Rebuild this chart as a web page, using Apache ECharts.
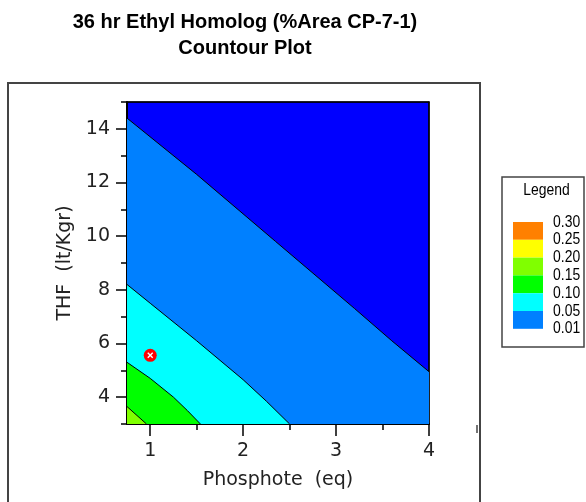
<!DOCTYPE html>
<html lang="en">
<head>
  <meta charset="UTF-8" />
  <title>36 hr Ethyl Homolog Contour Plot</title>
  <script src="https://cdn.jsdelivr.net/npm/echarts@6/dist/echarts.min.js"></script>
  <style>
    body {
      margin: 0;
      background: #fff;
    }
    #chart {
      width: 586px;
      height: 502px;
    }
  </style>
</head>
<body>
  <div id="chart"></div>

  <script>
    // contour lines, [phosphate, THF]
    const level01 = [[0.75, 14.4], [1.5, 12.3], [2.35, 9.8], [3.2, 7.3], [3.6, 6.1], [4, 4.95]];
    const level05 = [[0.75, 8.2], [1.0, 7.5], [1.5, 6.1], [2.0, 4.65], [2.25, 3.85], [2.5, 3.0]];
    const level10 = [[0.75, 5.3], [1.0, 4.7], [1.25, 4.0], [1.4, 3.5], [1.54, 3.0]];
    const level15 = [[0.75, 3.65], [0.96, 3.0]];
    const designPoint = [[1.0, 5.56]];

    // tick values
    const xMajor = [1, 2, 3, 4];
    const xMinor = [1.5, 2.5, 3.5];
    const yMajor = [4, 6, 8, 10, 12, 14];
    const yMinor = [3, 5, 7, 9, 11, 13, 15];

    // legend
    const legendLabels = ['0.30', '0.25', '0.20', '0.15', '0.10', '0.05', '0.01'];
    const legendColors = ['#FF8000', '#FFFF00', '#80FF00', '#00FF00', '#00FFFF', '#0080FF'];
    const lowColor = '#0000FF';

    const axisFont = 'DejaVu Sans';
    const legendFont = '17px "Liberation Sans", Arial, sans-serif';

    const chart = echarts.init(document.getElementById('chart'));

    // each band = area under its contour line, drawn from lowest level up
    const bandSeries = (data, color) => ({
      type: 'line',
      data: data,
      showSymbol: false,
      silent: true,
      lineStyle: { color: '#000', width: 1 },
      areaStyle: { color: color, opacity: 1, origin: 'start' }
    });

    const bandColors = legendColors.slice().reverse(); // 0.01, 0.05, 0.10, 0.15 ...

    // legend drawing (narrow text = normal font squeezed)
    const lg = { x: 502, y: 177, w: 82, h: 170, sx: 513, sw: 30, top: 222, rowH: 17.8 };
    const legendGraphics = [
      { type: 'rect', shape: { x: lg.x, y: lg.y, width: lg.w, height: lg.h },
        style: { fill: '#fff', stroke: '#444', lineWidth: 1.5 } },
      { type: 'text', x: 546.5, y: 190, scaleX: 0.82,
        style: { text: 'Legend', font: legendFont, fill: '#000', align: 'center', verticalAlign: 'middle' } }
    ];
    legendColors.forEach((c, i) => {
      legendGraphics.push({ type: 'rect',
        shape: { x: lg.sx, y: lg.top + i * lg.rowH, width: lg.sw, height: lg.rowH },
        style: { fill: c } });
    });
    legendLabels.forEach((t, i) => {
      legendGraphics.push({ type: 'text', x: 553, y: lg.top + i * lg.rowH, scaleX: 0.82,
        style: { text: t, font: legendFont, fill: '#000', align: 'left', verticalAlign: 'middle' } });
    });

    chart.setOption({
      animation: false,
      title: {
        text: '36 hr Ethyl Homolog (%Area CP-7-1)\nCountour Plot',
        left: 245,
        top: 9,
        padding: 0,
        textAlign: 'center',
        textStyle: { fontFamily: 'Liberation Sans', fontWeight: 'bold', fontSize: 20, lineHeight: 26, color: '#000' }
      },
      grid: {
        left: 127, top: 102, width: 302, height: 322,
        show: true, backgroundColor: lowColor, borderColor: '#000', borderWidth: 1
      },
      xAxis: [
        {
          type: 'value', min: 0.75, max: 4, position: 'bottom',
          name: 'Phosphote  (eq)', nameLocation: 'middle', nameGap: 47,
          nameTextStyle: { fontFamily: axisFont, fontSize: 19, color: '#222' },
          axisLine: { show: true, onZero: false, lineStyle: { color: '#000', width: 2 } },
          axisTick: { show: true, customValues: xMajor, length: 12, lineStyle: { color: '#000', width: 1.5 } },
          axisLabel: { customValues: xMajor, margin: 18, fontFamily: axisFont, fontSize: 19, color: '#222' },
          splitLine: { show: false }
        },
        {
          type: 'value', min: 0.75, max: 4, position: 'bottom',
          axisLine: { show: false },
          axisTick: { show: true, customValues: xMinor, length: 6, lineStyle: { color: '#000', width: 1.5 } },
          axisLabel: { show: false },
          splitLine: { show: false }
        },
        {
          type: 'value', min: 0.75, max: 4, position: 'top',
          axisLine: { show: true, onZero: false, lineStyle: { color: '#000', width: 1.5 } },
          axisTick: { show: false },
          axisLabel: { show: false },
          splitLine: { show: false }
        }
      ],
      yAxis: [
        {
          type: 'value', min: 3, max: 15, position: 'left',
          name: 'THF  (lt/Kgr)', nameLocation: 'middle', nameGap: 48,
          nameTextStyle: { fontFamily: axisFont, fontSize: 19, color: '#222' },
          axisLine: { show: true, onZero: false, lineStyle: { color: '#000', width: 2 } },
          axisTick: { show: true, customValues: yMajor, length: 11, lineStyle: { color: '#000', width: 1.5 } },
          axisLabel: { customValues: yMajor, margin: 17, fontFamily: axisFont, fontSize: 19, color: '#222' },
          splitLine: { show: false }
        },
        {
          type: 'value', min: 3, max: 15, position: 'left',
          axisLine: { show: false },
          axisTick: { show: true, customValues: yMinor, length: 6, lineStyle: { color: '#000', width: 1.5 } },
          axisLabel: { show: false },
          splitLine: { show: false }
        },
        {
          type: 'value', min: 3, max: 15, position: 'right',
          axisLine: { show: true, onZero: false, lineStyle: { color: '#000', width: 1.5 } },
          axisTick: { show: false },
          axisLabel: { show: false },
          splitLine: { show: false }
        }
      ],
      series: [
        bandSeries(level01, bandColors[0]),
        bandSeries(level05, bandColors[1]),
        bandSeries(level10, bandColors[2]),
        bandSeries(level15, bandColors[3]),
        {
          type: 'scatter', data: designPoint, symbol: 'circle', symbolSize: 13,
          itemStyle: { color: '#FF0000', opacity: 1 }, z: 5
        },
        {
          type: 'scatter', data: designPoint, symbolSize: 7, symbolRotate: 45,
          symbol: 'path://M4,0H6V4H10V6H6V10H4V6H0V4H4Z',
          itemStyle: { color: '#FFFFFF', opacity: 1 }, z: 6
        }
      ],
      graphic: [
        { type: 'rect', shape: { x: 8, y: 83, width: 472, height: 430 },
          style: { fill: 'none', stroke: '#444', lineWidth: 2 }, z: -1 },
        { type: 'line', shape: { x1: 477, y1: 425, x2: 477, y2: 433 },
          style: { stroke: '#444', lineWidth: 1.5 } }
      ].concat(legendGraphics)
    });
  </script>
</body>
</html>
